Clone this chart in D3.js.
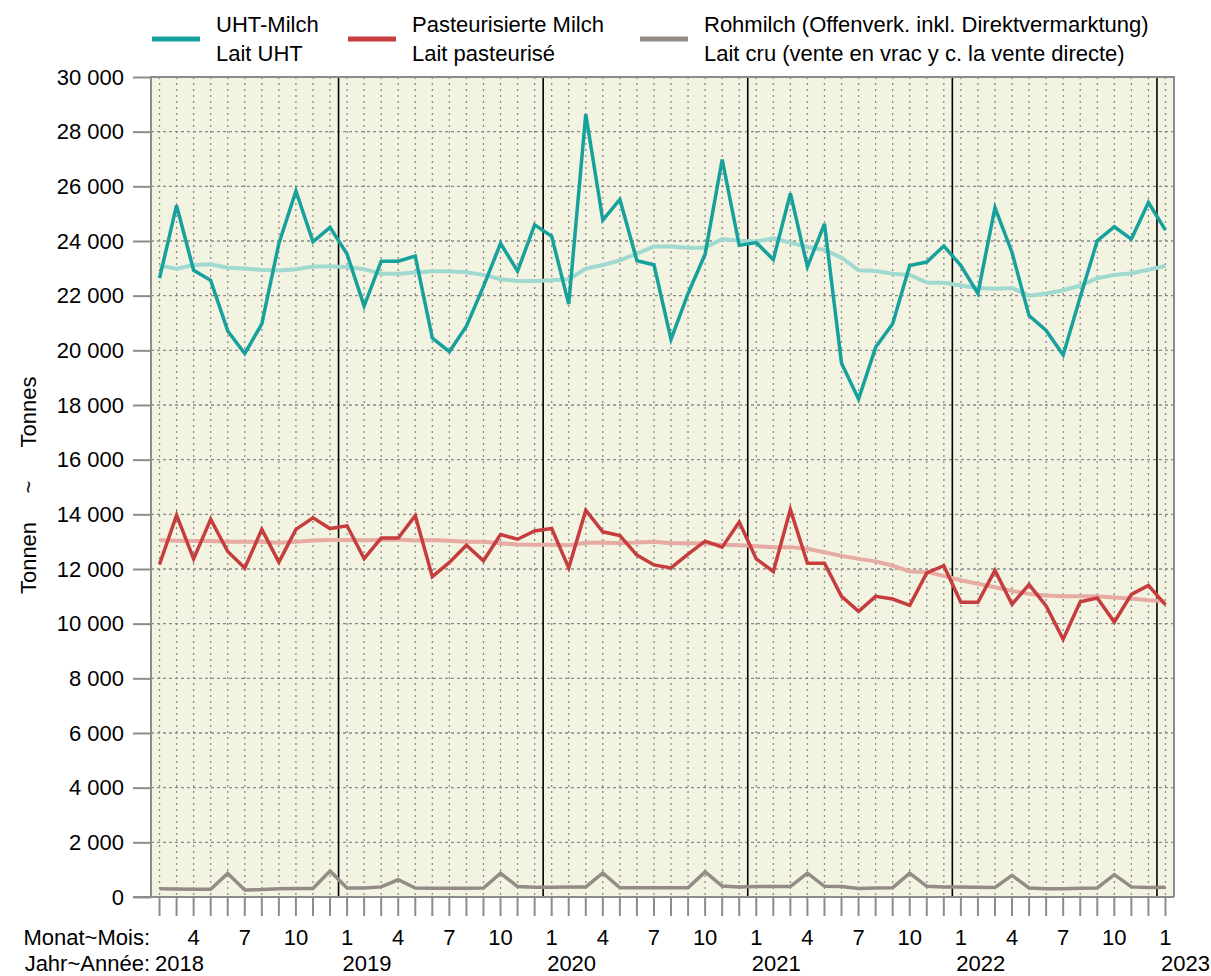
<!DOCTYPE html>
<html>
<head>
<meta charset="utf-8">
<script src="https://cdn.jsdelivr.net/npm/d3@7"></script>
<style>
  body { margin: 0; background: #fff; }
  text { font-family: "Liberation Sans", Arial, sans-serif; fill: #000; }
</style>
</head>
<body>
<svg id="chart" width="1211" height="976"></svg>
<script>
// months Feb 2018 .. Jan 2023
var monate = ["2018-02","2018-03","2018-04","2018-05","2018-06","2018-07","2018-08","2018-09","2018-10","2018-11","2018-12",
  "2019-01","2019-02","2019-03","2019-04","2019-05","2019-06","2019-07","2019-08","2019-09","2019-10","2019-11","2019-12",
  "2020-01","2020-02","2020-03","2020-04","2020-05","2020-06","2020-07","2020-08","2020-09","2020-10","2020-11","2020-12",
  "2021-01","2021-02","2021-03","2021-04","2021-05","2021-06","2021-07","2021-08","2021-09","2021-10","2021-11","2021-12",
  "2022-01","2022-02","2022-03","2022-04","2022-05","2022-06","2022-07","2022-08","2022-09","2022-10","2022-11","2022-12",
  "2023-01"];

var uht = [22640,25300,22930,22560,20710,19880,20970,23910,25830,23970,24500,
  23520,21620,23260,23260,23450,20450,19950,20880,22340,23910,22900,24590,
  24170,21690,28640,24760,25520,23280,23130,20400,22080,23520,26980,23840,
  23940,23320,25740,23060,24630,19530,18220,20110,20970,23100,23230,23820,
  23100,22080,25220,23580,21270,20730,19830,21950,24010,24520,24070,25410,
  24400];
var uht_trend = [23100,22990,23120,23150,23020,22990,22940,22920,22970,23070,23070,
  23050,22970,22800,22800,22850,22890,22890,22860,22760,22600,22540,22540,
  22560,22600,22990,23120,23290,23540,23800,23800,23750,23750,24070,24010,
  23980,24100,23940,23780,23670,23390,22930,22900,22800,22760,22480,22470,
  22370,22280,22250,22280,22000,22080,22200,22370,22640,22760,22820,22950,
  23090];

var past = [12170,13970,12370,13820,12640,12040,13450,12250,13450,13870,13480,
  13580,12380,13130,13130,13950,11720,12240,12870,12300,13260,13090,13390,
  13480,12040,14150,13360,13220,12510,12150,12040,12540,13020,12800,13720,
  12370,11910,14180,12210,12210,11000,10450,11000,10900,10670,11860,12120,
  10780,10780,11950,10710,11430,10650,9430,10800,10940,10060,11070,11400,
  10690];
var past_trend = [13050,13030,13020,13020,13000,13000,13000,12960,13000,13040,13060,
  13060,13050,13060,13080,13040,13060,13030,13000,13000,12940,12900,12890,
  12890,12870,12960,12970,12940,12970,13000,12940,12940,12940,12890,12870,
  12830,12800,12800,12740,12610,12480,12370,12280,12120,11910,11890,11750,
  11590,11460,11330,11200,11090,11030,11000,11000,11000,10960,10920,10860,
  10830];

var roh = [300,290,280,280,860,260,270,300,310,310,950,
  330,330,370,630,330,320,320,320,330,870,380,360,
  360,370,370,880,340,340,340,340,340,920,400,370,
  380,380,380,870,390,380,310,330,340,870,390,370,
  370,360,350,790,330,300,300,320,330,820,370,350,
  360];

var yTicks = d3.range(0, 30001, 2000);

var col_uht = "#16a19c", col_uht_t = "#9fd9cf";
var col_past = "#c63d3e", col_past_t = "#e6aba2";
var col_roh = "#948b87";

var FS = "22px";
var svg = d3.select("#chart");
var L = 151, R = 1174, T = 77, B = 897;

var x = d3.scaleLinear().domain([-0.5, monate.length - 0.5]).range([L, R]);
var y = d3.scaleLinear().domain([0, 30000]).range([B, T]);

var loc = d3.formatLocale({decimal: ",", thousands: " ", grouping: [3], currency: ["", ""]});
var fmt = loc.format(",d");

// background
svg.append("rect").attr("x", L).attr("y", T).attr("width", R - L).attr("height", B - T)
  .attr("fill", "#f3f3e1");

// horizontal grid
svg.append("g").selectAll("line").data(yTicks.slice(1)).enter().append("line")
  .attr("x1", L).attr("x2", R).attr("y1", d => y(d)).attr("y2", d => y(d))
  .attr("stroke", "#8a8a8a").attr("stroke-width", 1.3).attr("stroke-dasharray", "3,3");

// vertical month grid
svg.append("g").selectAll("line").data(monate).enter().append("line")
  .attr("x1", (d, i) => x(i)).attr("x2", (d, i) => x(i)).attr("y1", T).attr("y2", B)
  .attr("stroke", "#8a8a8a").attr("stroke-width", 1.3).attr("stroke-dasharray", "2,4");

// year boundaries
var jan = [];
monate.forEach(function(m, i) { if (m.slice(5) == "01") jan.push(i); });
svg.append("g").selectAll("line").data(jan).enter().append("line")
  .attr("x1", d => x(d - 0.5)).attr("x2", d => x(d - 0.5)).attr("y1", T).attr("y2", B)
  .attr("stroke", "#000").attr("stroke-width", 1.6);

// frame
svg.append("path").attr("d", "M" + L + "," + B + "V" + T + "H" + R + "V" + B)
  .attr("fill", "none").attr("stroke", "#8c8c8c").attr("stroke-width", 2);

// y axis
var yAxis = d3.axisLeft(y).tickValues(yTicks).tickFormat(fmt).tickSize(18).tickPadding(9);
var gy = svg.append("g").attr("transform", "translate(" + L + ",0)").call(yAxis);
gy.select(".domain").remove();
gy.selectAll(".tick line").attr("stroke", "#8c8c8c").attr("stroke-width", 2);
gy.selectAll(".tick text").style("font-size", FS).style("font-family", "Liberation Sans, Arial, sans-serif");

// bottom axis line + month ticks
svg.append("line").attr("x1", L - 18).attr("x2", R).attr("y1", B).attr("y2", B)
  .attr("stroke", "#8c8c8c").attr("stroke-width", 2);
svg.append("g").selectAll("line").data(monate).enter().append("line")
  .attr("x1", (d, i) => x(i)).attr("x2", (d, i) => x(i)).attr("y1", B).attr("y2", B + 19)
  .attr("stroke", "#8c8c8c").attr("stroke-width", 2);

// month labels
svg.append("text").attr("x", 150).attr("y", 945).attr("text-anchor", "end")
  .style("font-size", FS).text("Monat~Mois:");
svg.append("g").selectAll("text").data(monate.map((m, i) => [+m.slice(5), i]).filter(d => (d[0] - 1) % 3 == 0))
  .enter().append("text")
  .attr("x", d => x(d[1])).attr("y", 945).attr("text-anchor", "middle")
  .style("font-size", FS).text(d => d[0]);

// year labels
var yb = 971;
svg.append("text").attr("x", 150).attr("y", yb).attr("text-anchor", "end")
  .style("font-size", FS).text("Jahr~Année:");
svg.append("text").attr("x", L + 4).attr("y", yb).style("font-size", FS).text(monate[0].slice(0, 4));
svg.append("g").selectAll("text").data(jan).enter().append("text")
  .attr("x", d => x(d - 0.5) + 4).attr("y", yb)
  .style("font-size", FS).text(d => monate[d].slice(0, 4));

// y title
var ytitle = [["Tonnen", 558], ["~", 487], ["Tonnes", 412]];
svg.append("g").selectAll("text").data(ytitle).enter().append("text")
  .attr("transform", d => "translate(28," + d[1] + ") rotate(-90)")
  .attr("text-anchor", "middle").attr("dominant-baseline", "central")
  .style("font-size", FS).text(d => d[0]);

// lines
var line = d3.line().x((d, i) => x(i)).y(d => y(d));
function draw(data, color, w) {
  svg.append("path").datum(data).attr("d", line)
    .attr("fill", "none").attr("stroke", color).attr("stroke-width", w)
    .attr("stroke-linejoin", "miter");
}
draw(uht_trend, col_uht_t, 4);
draw(past_trend, col_past_t, 4);
draw(uht, col_uht, 3.5);
draw(past, col_past, 3.5);
draw(roh, col_roh, 3.5);

// legend
var legend = [
  {c: col_uht, x: 152, t1: "UHT-Milch", t2: "Lait UHT"},
  {c: col_past, x: 348, t1: "Pasteurisierte Milch", t2: "Lait pasteurisé"},
  {c: col_roh, x: 640, t1: "Rohmilch (Offenverk. inkl. Direktvermarktung)", t2: "Lait cru (vente en vrac y c. la vente directe)"}
];
var lg = svg.append("g").selectAll("g").data(legend).enter().append("g");
lg.append("line").attr("x1", d => d.x).attr("x2", d => d.x + 48).attr("y1", 39).attr("y2", 39)
  .attr("stroke", d => d.c).attr("stroke-width", 5);
lg.append("text").attr("x", d => d.x + 64).attr("y", 32).style("font-size", FS).text(d => d.t1);
lg.append("text").attr("x", d => d.x + 64).attr("y", 61).style("font-size", FS).text(d => d.t2);
</script>
</body>
</html>
